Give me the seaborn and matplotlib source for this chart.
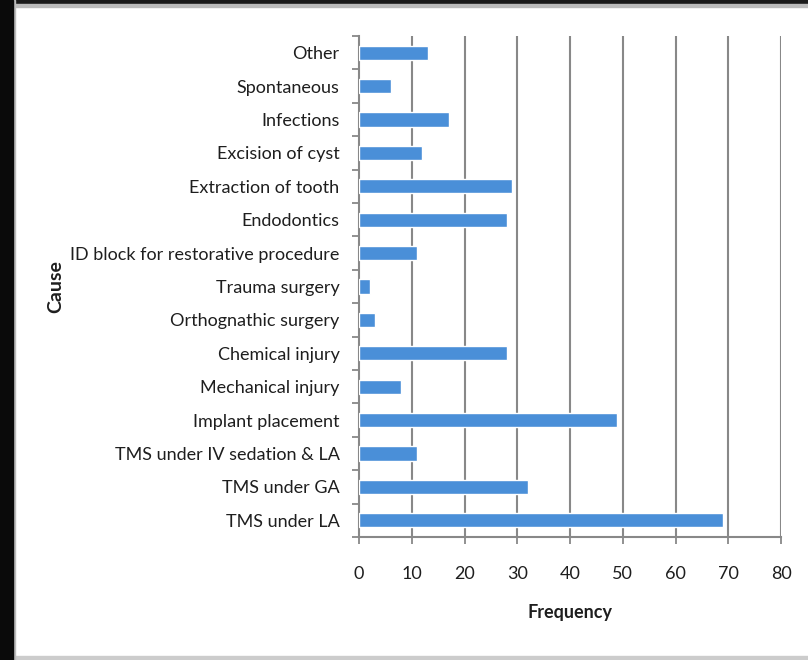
import matplotlib
matplotlib.use("Agg")
import matplotlib.pyplot as plt
from matplotlib.patches import Rectangle
from matplotlib.ticker import FixedLocator
import seaborn as sns
import pandas as pd

causes = ["Other", "Spontaneous", "Infections", "Excision of cyst", "Extraction of tooth",
          "Endodontics", "ID block for restorative procedure", "Trauma surgery",
          "Orthognathic surgery", "Chemical injury", "Mechanical injury",
          "Implant placement", "TMS under IV sedation & LA", "TMS under GA", "TMS under LA"]
frequency = [13, 6, 17, 12, 29, 28, 11, 2, 3, 28, 8, 49, 11, 32, 69]
x_ticks = [0, 10, 20, 30, 40, 50, 60, 70, 80]

df = pd.DataFrame({"Cause": causes, "Frequency": frequency})

sns.set_theme(style="white")
plt.rcParams["font.family"] = ["Lato", "DejaVu Sans"]

W, H = 808, 660
fig = plt.figure(figsize=(W / 100, H / 100), dpi=100)
ax = fig.add_axes([359 / W, 1 - 537 / H, (781 - 359) / W, (537 - 36) / H])

sns.barplot(data=df, x="Frequency", y="Cause", order=causes, orient="h",
            color="#4a8fd8", saturation=1, width=0.43, ax=ax, zorder=3)

ax.set_xlim(0, 80)
ax.set_ylim(len(causes) - 0.5, -0.5)
ax.set_xticks(x_ticks)
ax.set_xticklabels([str(t) for t in x_ticks], fontsize=13, color="#1e1e1e")
ax.set_yticks(range(len(causes)))
ax.set_yticklabels(causes, fontsize=13, color="#1e1e1e")
ax.yaxis.set_minor_locator(FixedLocator([i - 0.5 for i in range(len(causes) + 1)]))

ax.tick_params(axis="y", which="major", length=0, pad=14)
ax.tick_params(axis="y", which="minor", left=True, length=5, width=1.3, color="#888888", direction="out")
ax.tick_params(axis="x", which="major", bottom=True, length=5, width=1.3, color="#888888", direction="out", pad=16)

for v in x_ticks[1:]:
    ax.axvline(v, color="#888888", lw=1.5, zorder=1)

for s in ["top", "right"]:
    ax.spines[s].set_visible(False)
for s in ["left", "bottom"]:
    ax.spines[s].set_color("#888888")
    ax.spines[s].set_linewidth(1.5)

ax.set_xlabel("Frequency", fontsize=13, fontweight="bold", color="#1e1e1e", labelpad=16)
ax.set_ylabel("Cause", fontsize=14, fontweight="bold", color="#1e1e1e", labelpad=8)
ax.yaxis.set_label_coords((64 - 359) / (781 - 359), 0.5)

# frame decoration
fig.patches.append(Rectangle((0, 1 - 4 / H), 1, 4 / H, transform=fig.transFigure, color="#1a1a1a", zorder=0))
fig.patches.append(Rectangle((0, 1 - 7 / H), 1, 3 / H, transform=fig.transFigure, color="#bbbbbb", zorder=0))
fig.patches.append(Rectangle((0, 0), 1, 4 / H, transform=fig.transFigure, color="#cccccc", zorder=0))
fig.patches.append(Rectangle((13 / W, 0), 2 / W, 1, transform=fig.transFigure, color="#bbbbbb", zorder=0))
fig.patches.append(Rectangle((0, 0), 13 / W, 1, transform=fig.transFigure, color="#0a0a0a", zorder=1))

fig.savefig("out.png", dpi=100)
